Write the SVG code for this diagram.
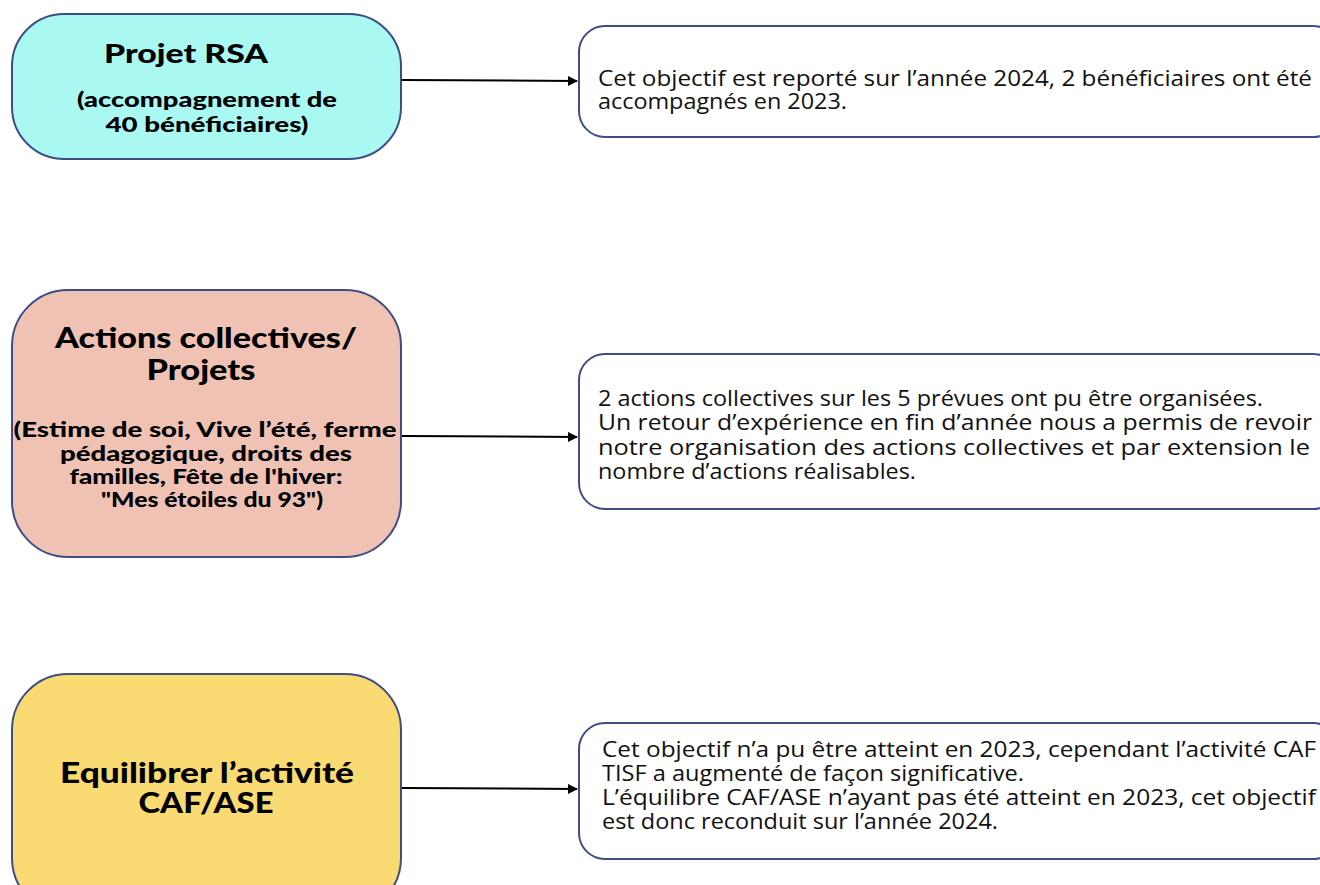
<svg xmlns="http://www.w3.org/2000/svg" width="1320" height="885" viewBox="0 0 1320 885">
<style>
.lbox{stroke:#3F4D86;stroke-width:2}
.rbox{fill:#ffffff;stroke:#3F4D86;stroke-width:2}
.h{font-family:Lato,"Noto Sans",sans-serif;font-weight:900;fill:#000;text-anchor:middle}
.t{font-family:"Open Sans","Noto Sans",sans-serif;font-size:22px;fill:#111}
.conn{stroke:#000;stroke-width:2;fill:none}
</style>
<defs>
<marker id="arr" viewBox="0 0 10 10" refX="9" refY="5" markerWidth="5" markerHeight="5" orient="auto" markerUnits="strokeWidth">
<path d="M0,0 L10,5 L0,10 z" fill="#000"/>
</marker>
</defs>
<rect width="1320" height="885" fill="#ffffff"/>
<g id="connectors">
<line class="conn" x1="402" y1="80" x2="577" y2="81" marker-end="url(#arr)"/>
<line class="conn" x1="402" y1="436" x2="577" y2="437" marker-end="url(#arr)"/>
<line class="conn" x1="402" y1="788" x2="577" y2="789" marker-end="url(#arr)"/>
</g>
<g id="node-rsa">
<rect class="lbox" x="12" y="14" width="389" height="145" rx="52" ry="52" fill="#A9F8F2"/>
<text class="h" x="186" y="63" font-size="27" textLength="164" lengthAdjust="spacingAndGlyphs">Projet RSA</text>
<text class="h" x="207" y="107" font-size="20" textLength="260" lengthAdjust="spacingAndGlyphs">(accompagnement de</text>
<text class="h" x="207" y="132" font-size="20" textLength="203" lengthAdjust="spacingAndGlyphs">40 bénéficiaires)</text>
</g>
<g id="node-rsa-result">
<rect class="rbox" x="579" y="26" width="760" height="111" rx="26" ry="26"/>
<text class="t" x="598" y="86" textLength="714" lengthAdjust="spacingAndGlyphs">Cet objectif est reporté sur l’année 2024, 2 bénéficiaires ont été</text>
<text class="t" x="598" y="109" textLength="249" lengthAdjust="spacingAndGlyphs">accompagnés en 2023.</text>
</g>
<g id="node-actions">
<rect class="lbox" x="12" y="290" width="389" height="267" rx="56" ry="56" fill="#F0C2B3"/>
<text class="h" x="206" y="348" font-size="28" textLength="302" lengthAdjust="spacingAndGlyphs">Actions collectives/</text>
<text class="h" x="201" y="380" font-size="28" textLength="109" lengthAdjust="spacingAndGlyphs">Projets</text>
<text class="h" x="205" y="437" font-size="20" textLength="383" lengthAdjust="spacingAndGlyphs">(Estime de soi, Vive l’été, ferme</text>
<text class="h" x="206" y="461" font-size="20" textLength="292" lengthAdjust="spacingAndGlyphs">pédagogique, droits des</text>
<text class="h" x="206" y="484" font-size="20" textLength="273" lengthAdjust="spacingAndGlyphs">familles, Fête de l'hiver:</text>
<text class="h" x="212" y="507" font-size="20" textLength="222" lengthAdjust="spacingAndGlyphs">"Mes étoiles du 93")</text>
</g>
<g id="node-actions-result">
<rect class="rbox" x="579" y="354" width="760" height="155" rx="26" ry="26"/>
<text class="t" x="598" y="406" textLength="665" lengthAdjust="spacingAndGlyphs">2 actions collectives sur les 5 prévues ont pu être organisées.</text>
<text class="t" x="598" y="430" textLength="714" lengthAdjust="spacingAndGlyphs">Un retour d’expérience en fin d’année nous a permis de revoir</text>
<text class="t" x="598" y="455" textLength="712" lengthAdjust="spacingAndGlyphs">notre organisation des actions collectives et par extension le</text>
<text class="t" x="598" y="479" textLength="318" lengthAdjust="spacingAndGlyphs">nombre d’actions réalisables.</text>
</g>
<g id="node-caf">
<rect class="lbox" x="12" y="674" width="389" height="240" rx="56" ry="56" fill="#FADA72"/>
<text class="h" x="207" y="783" font-size="28" textLength="294" lengthAdjust="spacingAndGlyphs">Equilibrer l’activité</text>
<text class="h" x="206" y="813" font-size="28" textLength="135" lengthAdjust="spacingAndGlyphs">CAF/ASE</text>
</g>
<g id="node-caf-result">
<rect class="rbox" x="579" y="723" width="760" height="136" rx="26" ry="26"/>
<text class="t" x="602" y="757" textLength="714" lengthAdjust="spacingAndGlyphs">Cet objectif n’a pu être atteint en 2023, cependant l’activité CAF</text>
<text class="t" x="602" y="781" textLength="422" lengthAdjust="spacingAndGlyphs">TISF a augmenté de façon significative.</text>
<text class="t" x="602" y="805" textLength="714" lengthAdjust="spacingAndGlyphs">L’équilibre CAF/ASE n’ayant pas été atteint en 2023, cet objectif</text>
<text class="t" x="602" y="829" textLength="396" lengthAdjust="spacingAndGlyphs">est donc reconduit sur l’année 2024.</text>
</g>
</svg>
